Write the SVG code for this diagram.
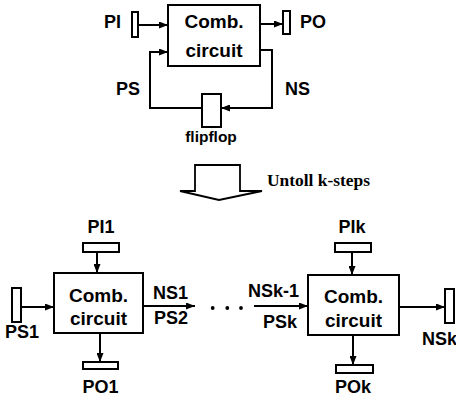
<svg xmlns="http://www.w3.org/2000/svg" width="456" height="400" viewBox="0 0 456 400">
<defs>
<marker id="ah" markerWidth="9" markerHeight="7" refX="9" refY="3.5" orient="auto" markerUnits="userSpaceOnUse">
<path d="M0,0 L9,3.5 L0,7 z" fill="#000"/>
</marker>
<style>
.box{fill:#fff;stroke:#000;stroke-width:2}
.reg{fill:#fff;stroke:#000;stroke-width:2}
.wire{fill:none;stroke:#000;stroke-width:2}
.arr{fill:none;stroke:#000;stroke-width:2;marker-end:url(#ah)}
.t{font-family:"Liberation Sans",Arial,sans-serif;font-weight:bold;font-size:18px;fill:#000}
.tb{font-family:"Liberation Sans",Arial,sans-serif;font-weight:bold;font-size:19px;fill:#000;text-anchor:middle}
.tm{text-anchor:middle}
</style>
</defs>
<rect width="456" height="400" fill="#fff"/>

<g id="connectors">
<line class="arr" x1="138" y1="25" x2="168" y2="25"/>
<line class="arr" x1="260" y1="24" x2="283" y2="24"/>
<polyline class="arr" points="260,50 272,50 272,108 221,108"/>
<polyline class="arr" points="202,108 150,108 150,52 168,52"/>
<line class="arr" x1="97" y1="252" x2="97" y2="273"/>
<line class="arr" x1="100" y1="333" x2="100" y2="362"/>
<line class="arr" x1="21" y1="307" x2="54" y2="307"/>
<line class="arr" x1="143" y1="306" x2="195" y2="306"/>
<line class="arr" x1="352" y1="252" x2="352" y2="275"/>
<line class="arr" x1="353" y1="335" x2="353" y2="365"/>
<line class="arr" x1="254" y1="306" x2="308" y2="306"/>
<line class="arr" x1="399" y1="307" x2="445" y2="307"/>
</g>

<g id="comb-top">
<rect class="box" x="168" y="5" width="92" height="61"/>
<text class="tb" x="214" y="28">Comb.</text>
<text class="tb" x="214" y="57">circuit</text>
</g>
<g id="pi">
<rect class="reg" x="132" y="12" width="6" height="25"/>
<text class="t" x="121" y="28" text-anchor="end">PI</text>
</g>
<g id="po">
<rect class="reg" x="283" y="11" width="7" height="23"/>
<text class="t" x="300" y="28">PO</text>
</g>
<g id="flipflop">
<rect class="reg" x="202" y="94" width="19" height="33"/>
<text class="t" x="211" y="142" text-anchor="middle" style="font-size:15.5px">flipflop</text>
</g>
<text class="t" x="116" y="95">PS</text>
<text class="t" x="285" y="95">NS</text>

<g id="unroll">
<polygon points="195,165 240,165 240,191 262,191 219,200 180,191 195,191" fill="#fff" stroke="#000" stroke-width="1.8" stroke-linejoin="miter"/>
<text x="267" y="186" font-family="'Liberation Serif','Times New Roman',serif" font-weight="bold" font-size="17" textLength="103" lengthAdjust="spacingAndGlyphs">Untoll k-steps</text>
</g>

<g id="comb-1">
<rect class="box" x="54" y="273" width="89" height="60"/>
<text class="tb" x="98.5" y="302">Comb.</text>
<text class="tb" x="98.5" y="325">circuit</text>
</g>
<g id="pi1">
<rect class="reg" x="83" y="243" width="36" height="9"/>
<text class="t tm" x="101" y="233">PI1</text>
</g>
<g id="po1">
<rect class="reg" x="83" y="362" width="35" height="7"/>
<text class="t tm" x="100.5" y="393">PO1</text>
</g>
<g id="ps1">
<rect class="reg" x="12" y="288" width="9" height="34"/>
<text class="t" x="5" y="338">PS1</text>
</g>
<text class="t" x="153" y="299">NS1</text>
<text class="t" x="154" y="324">PS2</text>

<g id="dots">
<circle cx="212.7" cy="308" r="1.9"/>
<circle cx="227.3" cy="308" r="1.9"/>
<circle cx="241" cy="308" r="1.9"/>
</g>

<text class="t" x="248" y="297">NSk-1</text>
<text class="t" x="263" y="328">PSk</text>

<g id="comb-k">
<rect class="box" x="308" y="275" width="91" height="60"/>
<text class="tb" x="353.5" y="303">Comb.</text>
<text class="tb" x="353.5" y="327">circuit</text>
</g>
<g id="pik">
<rect class="reg" x="335" y="243" width="36" height="9"/>
<text class="t tm" x="352" y="233">PIk</text>
</g>
<g id="pok">
<rect class="reg" x="336" y="365" width="37" height="8"/>
<text class="t tm" x="353" y="393">POk</text>
</g>
<g id="nsk">
<rect class="reg" x="445" y="289" width="9" height="34"/>
<text class="t" x="422" y="345">NSk</text>
</g>
</svg>
